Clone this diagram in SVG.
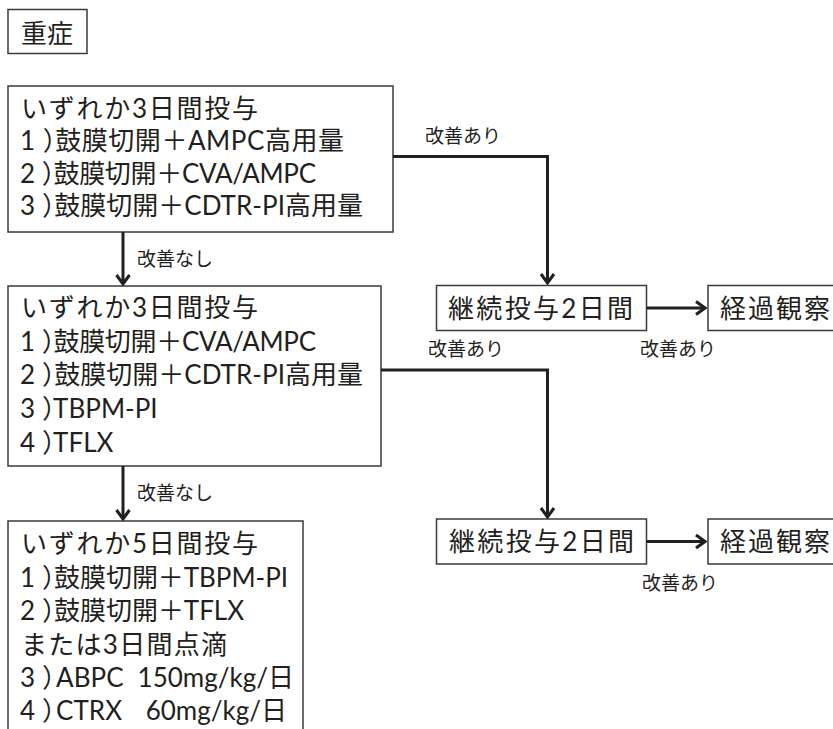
<svg xmlns="http://www.w3.org/2000/svg" width="833" height="729" viewBox="0 0 833 729">
<style>
.box{fill:#fff;stroke:#3a3a3a;stroke-width:1.5}
.t{font-family:Lato,"Noto Sans CJK JP",sans-serif;font-size:26px;fill:#231f20}
.lbl{font-family:Lato,"Noto Sans CJK JP",sans-serif;font-size:19px;fill:#231f20}
.c{fill:none;stroke:#231f20;stroke-width:3}
</style>
<defs>
<marker id="ah" markerUnits="userSpaceOnUse" viewBox="-12 -9 14 18" refX="0" refY="0" markerWidth="14" markerHeight="18" orient="auto">
<path d="M-9,-6.5 L0,0 L-9,6.5" fill="none" stroke="#231f20" stroke-width="3"/>
</marker>
</defs>
<rect width="833" height="729" fill="#fff"/>
<g id="title">
<rect class="box" x="8" y="9.5" width="79" height="44"/>
<text class="t" x="21" y="43">重症</text>
</g>
<g id="step1">
<rect class="box" x="8" y="86" width="385" height="146"/>
<text class="t" lengthAdjust="spacing"><tspan x="21" y="118" textLength="237">いずれか3日間投与</tspan><tspan x="20" y="150" dx="0 7 -14" textLength="324">1）鼓膜切開＋AMPC高用量</tspan><tspan x="20" y="183" dx="0 7 -14" textLength="296">2）鼓膜切開＋CVA/AMPC</tspan><tspan x="20" y="215" dx="0 7 -14" textLength="343">3）鼓膜切開＋CDTR-PI高用量</tspan></text>
</g>
<g id="step2">
<rect class="box" x="8" y="286" width="373" height="180"/>
<text class="t" lengthAdjust="spacing"><tspan x="21" y="317" textLength="237">いずれか3日間投与</tspan><tspan x="20" y="350.5" dx="0 7 -14" textLength="296">1）鼓膜切開＋CVA/AMPC</tspan><tspan x="20" y="384" dx="0 7 -14" textLength="343">2）鼓膜切開＋CDTR-PI高用量</tspan><tspan x="20" y="418" dx="0 7 -15">3）TBPM-PI</tspan><tspan x="20" y="451.5" dx="0 7 -15">4）TFLX</tspan></text>
</g>
<g id="step3">
<rect class="box" x="8" y="521" width="295" height="230"/>
<text class="t" lengthAdjust="spacing"><tspan x="21" y="553" textLength="237">いずれか5日間投与</tspan><tspan x="20" y="586.5" dx="0 7 -14" textLength="268">1）鼓膜切開＋TBPM-PI</tspan><tspan x="20" y="620" dx="0 7 -14" textLength="224">2）鼓膜切開＋TFLX</tspan><tspan x="21" y="653.5" textLength="206">または3日間点滴</tspan><tspan x="20" y="687" dx="0 7 -12 0 0 0 0 -12">3）ABPC　150mg/kg/日</tspan><tspan x="20" y="720" dx="0 7 -12 0 0 0 0 0 -9">4）CTRX　 60mg/kg/日</tspan></text>
</g>
<g id="cont1">
<rect class="box" x="436.5" y="285.5" width="210" height="45"/>
<text class="t" x="448" y="318" textLength="185" lengthAdjust="spacing">継続投与2日間</text>
</g>
<g id="obs1">
<rect class="box" x="708" y="285.5" width="140" height="45"/>
<text class="t" x="720" y="318" textLength="110" lengthAdjust="spacing">経過観察</text>
</g>
<g id="cont2">
<rect class="box" x="436.5" y="519" width="210" height="45"/>
<text class="t" x="449" y="551" textLength="185" lengthAdjust="spacing">継続投与2日間</text>
</g>
<g id="obs2">
<rect class="box" x="708" y="519" width="140" height="45"/>
<text class="t" x="720" y="551" textLength="110" lengthAdjust="spacing">経過観察</text>
</g>
<g id="connectors">
<path class="c" d="M393,156.5 H547.5 V283" marker-end="url(#ah)"/>
<path class="c" d="M381,370 H547.5 V517" marker-end="url(#ah)"/>
<path class="c" d="M123,232 V284" marker-end="url(#ah)"/>
<path class="c" d="M123,466 V519" marker-end="url(#ah)"/>
<path class="c" d="M646.5,308 H705" marker-end="url(#ah)"/>
<path class="c" d="M646.5,541.5 H705" marker-end="url(#ah)"/>
</g>
<g id="labels">
<text class="lbl" x="425" y="143">改善あり</text>
<text class="lbl" x="137" y="266">改善なし</text>
<text class="lbl" x="428" y="356">改善あり</text>
<text class="lbl" x="640" y="356">改善あり</text>
<text class="lbl" x="137" y="500">改善なし</text>
<text class="lbl" x="642" y="590">改善あり</text>
</g>
</svg>
